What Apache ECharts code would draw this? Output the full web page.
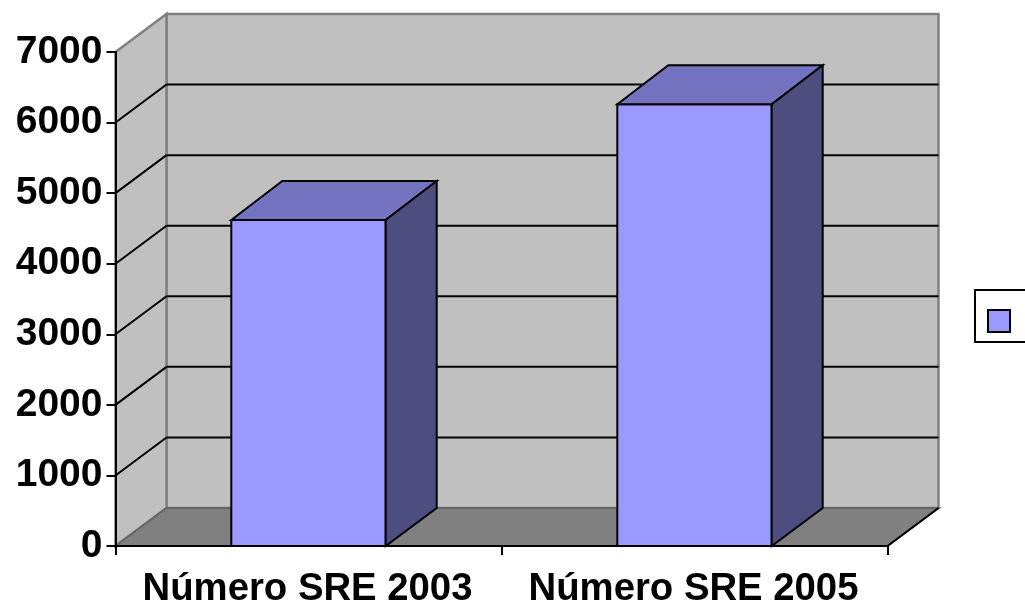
<!DOCTYPE html>
<html>
<head>
<meta charset="utf-8">
<style>
  html, body { margin: 0; padding: 0; background: #fff; overflow: hidden; }
  #main { width: 1025px; height: 602px; }
</style>
<script src="https://cdn.jsdelivr.net/npm/echarts@6/dist/echarts.min.js"></script>
</head>
<body>
<div id="main"></div>
<script>
var categories = ['Número SRE 2003', 'Número SRE 2005'];
var values = [4620, 6260];
var yTicks = [0, 1000, 2000, 3000, 4000, 5000, 6000, 7000];

// fake 3D depth, in pixels
var WALL_DX = 51, WALL_DY = 38;
var BAR_DX = 51, BAR_DY = 39;
var FONT = '"Liberation Sans", Arial, sans-serif';

function poly(points, fill, stroke, width) {
    return {
        type: 'polygon',
        shape: { points: points },
        style: { fill: fill, stroke: stroke, lineWidth: width, lineJoin: 'miter' }
    };
}

function line(x1, y1, x2, y2, color) {
    return {
        type: 'line',
        shape: { x1: x1, y1: y1, x2: x2, y2: y2 },
        style: { stroke: color, lineWidth: 2 }
    };
}

// back wall, side wall, floor and the gridlines, one tick at a time
function renderWall(params, api) {
    var cs = params.coordSys;
    var left = cs.x, right = cs.x + cs.width;
    var y = api.coord([0, api.value(1)])[1];
    var children = [];

    if (params.dataIndex === 0) {
        var bottom = y, top = cs.y;
        children.push(poly([[left + WALL_DX, top - WALL_DY], [right + WALL_DX, top - WALL_DY],
                            [right + WALL_DX, bottom - WALL_DY], [left + WALL_DX, bottom - WALL_DY]],
                           '#C0C0C0', '#808080', 2.5));
        children.push(poly([[left, top], [left + WALL_DX, top - WALL_DY],
                            [left + WALL_DX, bottom - WALL_DY], [left, bottom]],
                           '#C0C0C0', '#808080', 2.5));
        children.push(poly([[left, bottom], [left + WALL_DX, bottom - WALL_DY],
                            [right + WALL_DX, bottom - WALL_DY], [right, bottom]],
                           '#808080', '#666666', 2));
        children.push(line(right, bottom, right + WALL_DX, bottom - WALL_DY, '#000'));
    } else if (api.value(1) < yTicks[yTicks.length - 1]) {
        children.push(line(left, y, left + WALL_DX, y - WALL_DY, '#000'));
        children.push(line(left + WALL_DX, y - WALL_DY, right + WALL_DX, y - WALL_DY, '#000'));
    }
    return { type: 'group', children: children };
}

// front, top and side face of each bar
function renderBar(params, api) {
    var top = api.coord([api.value(0), api.value(1)]);
    var bottom = api.coord([api.value(0), 0]);
    var w = api.size([1, 0])[0] * 0.4;
    var x1 = top[0] - w / 2, x2 = top[0] + w / 2, yt = top[1], yb = bottom[1];
    return {
        type: 'group',
        children: [
            poly([[x1, yb], [x1, yt], [x2, yt], [x2, yb]], '#9999FF', '#000', 2),
            poly([[x1, yt], [x1 + BAR_DX, yt - BAR_DY], [x2 + BAR_DX, yt - BAR_DY], [x2, yt]], '#7373BF', '#000', 2),
            poly([[x2, yt], [x2 + BAR_DX, yt - BAR_DY], [x2 + BAR_DX, yb - WALL_DY], [x2, yb]], '#4D4D80', '#000', 2)
        ]
    };
}

var chart = echarts.init(document.getElementById('main'));
chart.setOption({
    animation: false,
    backgroundColor: '#fff',
    grid: { left: 115.5, right: 137.5, top: 52, bottom: 56, containLabel: false, outerBoundsMode: 'none' },
    legend: {
        left: 975,
        top: 290,
        orient: 'vertical',
        padding: [19, 40, 9, 12],
        itemWidth: 22,
        itemHeight: 22,
        borderColor: '#000',
        borderWidth: 2,
        backgroundColor: '#fff',
        textStyle: { fontSize: 12 },
        data: [{ name: ' ', icon: 'rect', itemStyle: { color: '#9999FF', borderColor: '#000', borderWidth: 2 } }]
    },
    xAxis: {
        type: 'category',
        data: categories,
        z: 5,
        axisLine: { lineStyle: { color: '#000', width: 2 } },
        axisTick: { show: true, length: 9, lineStyle: { color: '#000', width: 2 } },
        axisLabel: { color: '#000', fontFamily: FONT, fontWeight: 'bold', fontSize: 38.3, margin: 24, interval: 0, padding: [0, 2, 0, 0] }
    },
    yAxis: {
        type: 'value',
        min: 0,
        max: 7000,
        interval: 1000,
        z: 2,
        splitLine: { show: false },
        axisLine: { show: true, lineStyle: { color: '#000', width: 2 } },
        axisTick: { show: true, length: 9, lineStyle: { color: '#000', width: 2 } },
        axisLabel: {
            color: '#000', fontFamily: FONT, fontWeight: 'bold', fontSize: 39, margin: 13,
            padding: [7, 0, 0, 0],
            formatter: function(v) { return String(v); }
        }
    },
    series: [
        {
            name: 'paredes',
            type: 'custom',
            z: 1,
            silent: true,
            renderItem: renderWall,
            data: yTicks.map(function(t) { return [0, t]; })
        },
        {
            name: ' ',
            type: 'custom',
            z: 3,
            renderItem: renderBar,
            itemStyle: { color: '#9999FF' },
            data: values.map(function(v, i) { return [i, v]; })
        }
    ]
});
</script>
</body>
</html>
